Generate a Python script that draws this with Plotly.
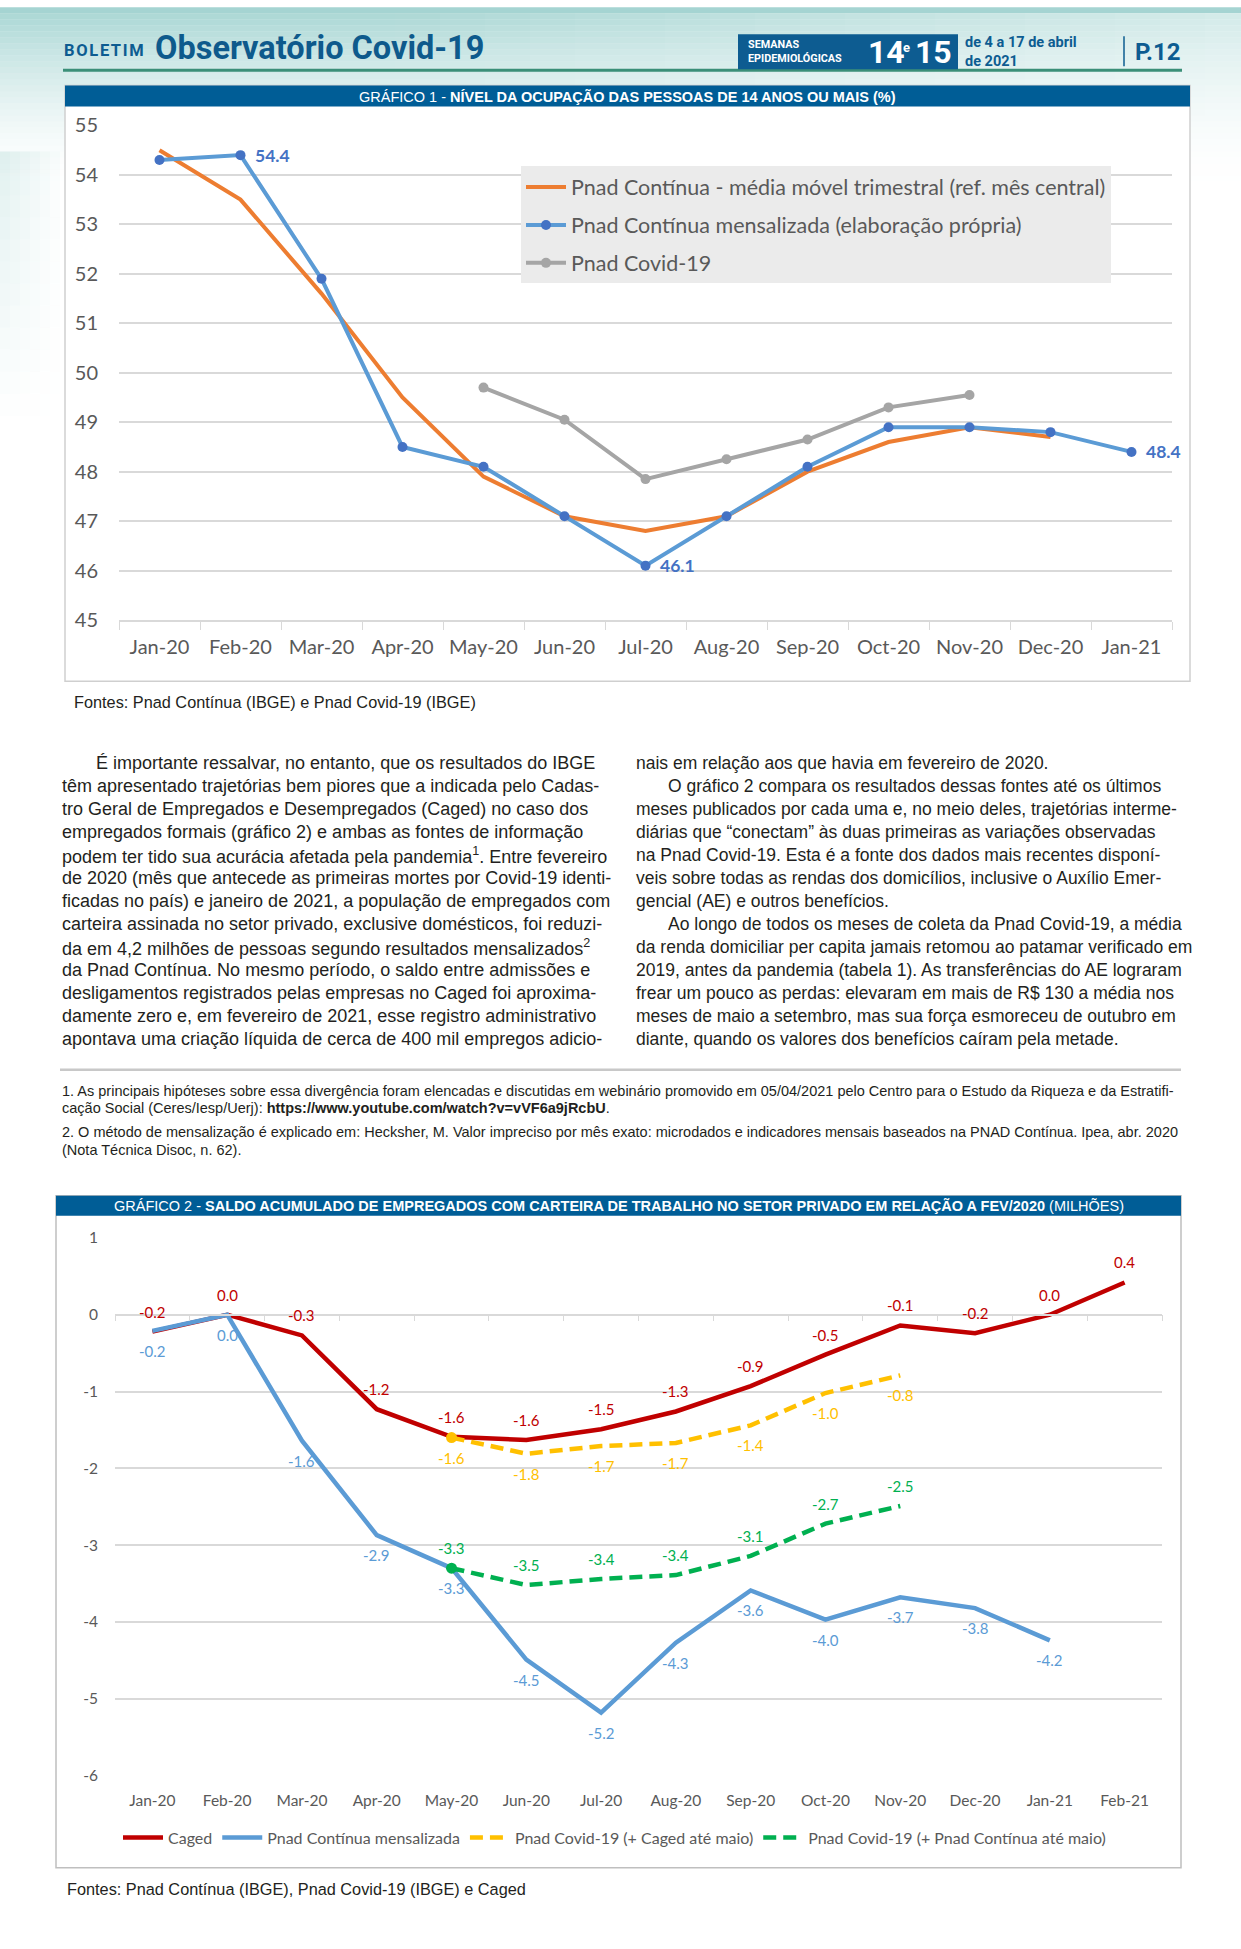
import plotly.graph_objects as go

W, H = 1241, 1949

# ---------------- DATA ----------------
months1 = ["Jan-20", "Feb-20", "Mar-20", "Apr-20", "May-20", "Jun-20", "Jul-20",
           "Aug-20", "Sep-20", "Oct-20", "Nov-20", "Dec-20", "Jan-21"]
media_movel = [54.5, 53.5, 51.6, 49.5, 47.9, 47.1, 46.8, 47.1, 48.0, 48.6, 48.9, 48.7, None]
mensalizada = [54.3, 54.4, 51.9, 48.5, 48.1, 47.1, 46.1, 47.1, 48.1, 48.9, 48.9, 48.8, 48.4]
pnad_covid = [None, None, None, None, 49.7, 49.05, 47.85, 48.25, 48.65, 49.3, 49.55, None, None]
labeled_points1 = [1, 6, 12]

months2 = months1 + ["Feb-21"]
caged = [-0.22, 0.0, -0.27, -1.23, -1.59, -1.63, -1.49, -1.26, -0.93, -0.52, -0.14, -0.24, 0.0, 0.42]
pnadc_mens = [-0.21, 0.0, -1.64, -2.87, -3.30, -4.49, -5.18, -4.27, -3.59, -3.97, -3.68, -3.82, -4.24, None]
covid_caged = [None, None, None, None, -1.6, -1.81, -1.71, -1.67, -1.44, -1.02, -0.79, None, None, None]
covid_pnadc = [None, None, None, None, -3.3, -3.52, -3.44, -3.39, -3.14, -2.72, -2.49, None, None, None]

y1_ticks = list(range(45, 56))
y2_ticks = list(range(-6, 2))
y2_ticktext = [str(v) for v in y2_ticks]


def px(x):
    return x / W


def fy(y):
    # vertical calibration of page positions
    return (y - 11.7) / 0.9864


def py(y):
    return 1 - fy(y) / H


CAL = "Lato"
ARIAL = "Liberation Sans"
BLUE_DARK = "#0d5c91"

fig = go.Figure()

# ---------------- CHART 1 ----------------
fig.add_trace(go.Scatter(x=months1, y=media_movel, mode="lines",
                         name="Pnad Contínua - média móvel trimestral (ref. mês central)",
                         line=dict(color="#ED7D31", width=4), legend="legend",
                         legendgroup="a", xaxis="x", yaxis="y"))
fig.add_trace(go.Scatter(x=months1, y=mensalizada, mode="lines+markers",
                         name="Pnad Contínua mensalizada (elaboração própria)",
                         line=dict(color="#5B9BD5", width=4),
                         marker=dict(color="#4472C4", size=10), legend="legend",
                         legendgroup="b", xaxis="x", yaxis="y"))
fig.add_trace(go.Scatter(x=months1, y=pnad_covid, mode="lines+markers",
                         name="Pnad Covid-19",
                         line=dict(color="#A5A5A5", width=4),
                         marker=dict(color="#A5A5A5", size=10), legend="legend",
                         legendgroup="c", xaxis="x", yaxis="y"))

annotations = []
for i in labeled_points1:
    annotations.append(dict(x=months1[i], y=mensalizada[i], xref="x", yref="y",
                            text=f"<b>{mensalizada[i]:.1f}</b>", showarrow=False,
                            xanchor="left", yanchor="middle", xshift=12,
                            font=dict(family=CAL, size=17.5, color="#4472C4")))

# ---------------- CHART 2 ----------------
series2 = [
    ("Caged", caged, "#C00000", "solid", 20),
    ("Pnad Contínua mensalizada", pnadc_mens, "#5B9BD5", "solid", -20),
    ("Pnad Covid-19 (+ Caged até maio)", covid_caged, "#FFC000", "13px,7px", -20),
    ("Pnad Covid-19 (+ Pnad Contínua até maio)", covid_pnadc, "#00B050", "13px,7px", 20),
]
for name, vals, color, dash, shift in series2:
    fig.add_trace(go.Scatter(x=months2, y=vals, mode="lines", name=name,
                             line=dict(color=color, width=4.5, dash=dash),
                             legend="legend2", xaxis="x2", yaxis="y2"))
    if dash != "solid":
        first = next(i for i, v in enumerate(vals) if v is not None)
        fig.add_trace(go.Scatter(x=[months2[first]], y=[vals[first]], mode="markers",
                                 marker=dict(color=color, size=11), showlegend=False,
                                 xaxis="x2", yaxis="y2"))
    for i, v in enumerate(vals):
        if v is None:
            continue
        annotations.append(dict(x=months2[i], y=v, xref="x2", yref="y2",
                                text=f"{v:.1f}", showarrow=False, yshift=shift,
                                font=dict(family=CAL, size=15, color=color)))

# helper (empty) trace for the category axis drawn along the zero line
fig.add_trace(go.Scatter(x=months2, y=[None] * len(months2), mode="lines",
                         showlegend=False, hoverinfo="skip", xaxis="x3", yaxis="y2"))

# ---------------- SHAPES (page decoration) ----------------
shapes = []
nb = 30
for i in range(nb):
    shapes.append(dict(type="rect", xref="paper", yref="paper", layer="below",
                       x0=0, x1=1, y0=py(i * 6 + 6), y1=min(1, py(i * 6)),
                       fillcolor="#6dbab6", line=dict(width=0),
                       opacity=0.62 * (1 - i / nb) ** 1.6))
for i in range(20):
    shapes.append(dict(type="rect", xref="paper", yref="paper", layer="below",
                       x0=px(350 + i * 45), x1=px(350 + (i + 1) * 45), y0=py(190), y1=1,
                       fillcolor="white", line=dict(width=0), opacity=0.025 * i))
for i in range(12):
    for j in range(6):
        shapes.append(dict(type="rect", xref="paper", yref="paper", layer="below",
                           x0=px(j * 10), x1=px(j * 10 + 10),
                           y0=py(150 + (i + 1) * 22), y1=py(150 + i * 22),
                           fillcolor="#8cc9c5", line=dict(width=0),
                           opacity=0.24 * (1 - i / 12) * (1 - j / 6)))

shapes.append(dict(type="line", xref="paper", yref="paper", x0=px(63), x1=px(1182),
                   y0=py(69), y1=py(69), line=dict(color="#3b8f78", width=3)))
shapes.append(dict(type="rect", xref="paper", yref="paper", x0=px(738), x1=px(958),
                   y0=py(68), y1=py(33), fillcolor=BLUE_DARK, line=dict(width=0)))
shapes.append(dict(type="line", xref="paper", yref="paper", x0=px(1124), x1=px(1124),
                   y0=py(65), y1=py(35), line=dict(color=BLUE_DARK, width=1.5)))

shapes.append(dict(type="rect", xref="paper", yref="paper", layer="below",
                   x0=px(65), x1=px(1190), y0=py(679), y1=py(84),
                   fillcolor="white", line=dict(color="#cfcfcf", width=1.5)))
shapes.append(dict(type="rect", xref="paper", yref="paper", layer="below",
                   x0=px(65), x1=px(1190), y0=py(105), y1=py(84),
                   fillcolor="#005d96", line=dict(width=0)))
shapes.append(dict(type="line", xref="paper", yref="paper", x0=px(60), x1=px(1181),
                   y0=py(1067), y1=py(1067), line=dict(color="#c8c8c8", width=2.5)))
shapes.append(dict(type="rect", xref="paper", yref="paper", layer="below",
                   x0=px(56), x1=px(1181), y0=py(1864), y1=py(1193),
                   fillcolor="white", line=dict(color="#bfbfbf", width=1.5)))
shapes.append(dict(type="rect", xref="paper", yref="paper", layer="below",
                   x0=px(56), x1=px(1181), y0=py(1213), y1=py(1193),
                   fillcolor="#005d96", line=dict(width=0)))


# ---------------- TEXT ----------------
def txt(x, y, text, size, color="#231f20", family=ARIAL, xanchor="left"):
    annotations.append(dict(x=px(x), y=py(y), xref="paper", yref="paper", text=text,
                            showarrow=False, xanchor=xanchor, yanchor="middle",
                            align="left" if xanchor == "left" else "center",
                            font=dict(family=family, size=size, color=color)))


txt(62, 49, "<b>B\u200aO\u200aL\u200aE\u200aT\u200aI\u200aM</b>", 16.5, BLUE_DARK, "Roboto")
txt(153, 47, "<b>Observatório Covid-19</b>", 32.5, "#0e5a8c", "Roboto")
txt(746, 50, "<b>SEMANAS<br>EPIDEMIOLÓGICAS</b>", 10.8, "white", "Roboto")
txt(866, 51, "<b>14</b>", 32, "white", "Roboto")
txt(901, 46, "<b>e</b>", 13, "white", "Roboto")
txt(913, 51, "<b>15</b>", 32, "white", "Roboto")
txt(963, 51, "<b>de 4 a 17 de abril<br>de 2021</b>", 14.5, BLUE_DARK, "Roboto")
txt(1133, 51, "<b>P.12</b>", 24, BLUE_DARK, "Roboto")

txt(627, 95, "GRÁFICO 1 - <b>NÍVEL DA OCUPAÇÃO DAS PESSOAS DE 14 ANOS OU MAIS (%)</b>",
    14.5, "white", ARIAL, "center")
txt(72, 700, "Fontes: Pnad Contínua (IBGE) e Pnad Covid-19 (IBGE)", 16.3)

left_col = [
    "É importante ressalvar, no entanto, que os resultados do IBGE",
    "têm apresentado trajetórias bem piores que a indicada pelo Cadas-",
    "tro Geral de Empregados e Desempregados (Caged) no caso dos",
    "empregados formais (gráfico 2) e ambas as fontes de informação",
    "podem ter tido sua acurácia afetada pela pandemia<sup>1</sup>. Entre fevereiro",
    "de 2020 (mês que antecede as primeiras mortes por Covid-19 identi-",
    "ficadas no país) e janeiro de 2021, a população de empregados com",
    "carteira assinada no setor privado, exclusive domésticos, foi reduzi-",
    "da em 4,2 milhões de pessoas segundo resultados mensalizados<sup>2</sup>",
    "da Pnad Contínua. No mesmo período, o saldo entre admissões e",
    "desligamentos registrados pelas empresas no Caged foi aproxima-",
    "damente zero e, em fevereiro de 2021, esse registro administrativo",
    "apontava uma criação líquida de cerca de 400 mil empregos adicio-",
]
right_col = [
    "nais em relação aos que havia em fevereiro de 2020.",
    "O gráfico 2 compara os resultados dessas fontes até os últimos",
    "meses publicados por cada uma e, no meio deles, trajetórias interme-",
    "diárias que “conectam” às duas primeiras as variações observadas",
    "na Pnad Covid-19. Esta é a fonte dos dados mais recentes disponí-",
    "veis sobre todas as rendas dos domicílios, inclusive o Auxílio Emer-",
    "gencial (AE) e outros benefícios.",
    "Ao longo de todos os meses de coleta da Pnad Covid-19, a média",
    "da renda domiciliar per capita jamais retomou ao patamar verificado em",
    "2019, antes da pandemia (tabela 1). As transferências do AE lograram",
    "frear um pouco as perdas: elevaram em mais de R$ 130 a média nos",
    "meses de maio a setembro, mas sua força esmoreceu de outubro em",
    "diante, quando os valores dos benefícios caíram pela metade.",
]
left_indent = {0}
right_indent = {1, 7}
for i, line in enumerate(left_col):
    txt(94 if i in left_indent else 60, 761 + i * 22.95, line, 18)
for i, line in enumerate(right_col):
    txt(666 if i in right_indent else 634, 761 + i * 22.95, line, 17.5)

foot = [
    (1088, "1. As principais hipóteses sobre essa divergência foram elencadas e discutidas em webinário promovido em 05/04/2021 pelo Centro para o Estudo da Riqueza e da Estratifi-"),
    (1105, "cação Social (Ceres/Iesp/Uerj): <b>https://www.youtube.com/watch?v=vVF6a9jRcbU</b>."),
    (1129, "2. O método de mensalização é explicado em: Hecksher, M. Valor impreciso por mês exato: microdados e indicadores mensais baseados na PNAD Contínua. Ipea, abr. 2020"),
    (1147, "(Nota Técnica Disoc, n. 62)."),
]
for y, line in foot:
    txt(60, y, line, 14.5)

txt(619, 1203, "GRÁFICO 2 - <b>SALDO ACUMULADO DE EMPREGADOS COM CARTEIRA DE TRABALHO NO SETOR PRIVADO EM RELAÇÃO A FEV/2020</b> (MILHÕES)",
    14.5, "white", ARIAL, "center")
txt(65, 1885, "Fontes: Pnad Contínua (IBGE), Pnad Covid-19 (IBGE) e Caged", 16.3)

# ---------------- LAYOUT ----------------
zero_pos = py(1235 + (1772 - 1235) * (1 - 0) / 7)

fig.update_layout(
    width=W, height=H, autosize=False,
    margin=dict(l=0, r=0, t=0, b=0, pad=0),
    paper_bgcolor="white", plot_bgcolor="rgba(0,0,0,0)",
    showlegend=True,
    xaxis=dict(domain=[px(119), px(1172)], anchor="y", type="category",
               categoryorder="array", categoryarray=months1, range=[-0.5, 12.5],
               showline=True, linecolor="#d9d9d9", linewidth=1.5,
               ticks="outside", tickson="boundaries", ticklen=8, tickcolor="#d9d9d9",
               showgrid=False, ticklabelstandoff=8,
               tickfont=dict(family=CAL, size=20, color="#595959")),
    yaxis=dict(domain=[py(618), py(124)], anchor="x", range=[45, 55],
               tickvals=y1_ticks, showgrid=True, gridcolor="#d9d9d9", gridwidth=1.5,
               zeroline=False, showline=False, ticks="", ticklabelstandoff=20,
               tickfont=dict(family=CAL, size=20, color="#595959")),
    xaxis2=dict(domain=[px(115), px(1162)], anchor="y2", type="category",
                categoryorder="array", categoryarray=months2, range=[-0.5, 13.5],
                showline=False, ticks="", showgrid=False, ticklabelstandoff=14,
                tickfont=dict(family=CAL, size=15.5, color="#595959")),
    xaxis3=dict(overlaying="x2", anchor="free", position=zero_pos, type="category",
                categoryorder="array", categoryarray=months2, range=[-0.5, 13.5],
                showline=True, linecolor="#d9d9d9", linewidth=1.5, ticks="outside",
                tickson="boundaries", ticklen=6, tickcolor="#d9d9d9",
                showticklabels=False, showgrid=False),
    yaxis2=dict(domain=[py(1772), py(1235)], anchor="x2", range=[-6, 1],
                tickvals=y2_ticks, ticktext=y2_ticktext, showgrid=True,
                gridcolor="#d9d9d9", gridwidth=1.5,
                zeroline=False, showline=False, ticks="", ticklabelstandoff=16,
                tickfont=dict(family=CAL, size=15.5, color="#595959")),
    legend=dict(x=px(521), y=py(165), xanchor="left", yanchor="top",
                bgcolor="#ebebeb", borderwidth=0, tracegroupgap=7,
                itemwidth=40, traceorder="grouped",
                font=dict(family=CAL, size=21.5, color="#595959")),
    legend2=dict(orientation="h", x=px(118), y=py(1834), xanchor="left", yanchor="middle",
                 bgcolor="rgba(0,0,0,0)", itemwidth=40,
                 font=dict(family=CAL, size=16, color="#595959")),
    shapes=shapes,
    annotations=annotations,
)

fig.write_html("out.html", config={"displayModeBar": False},
               post_script="document.body.style.margin='0';document.body.style.overflow='hidden';")
